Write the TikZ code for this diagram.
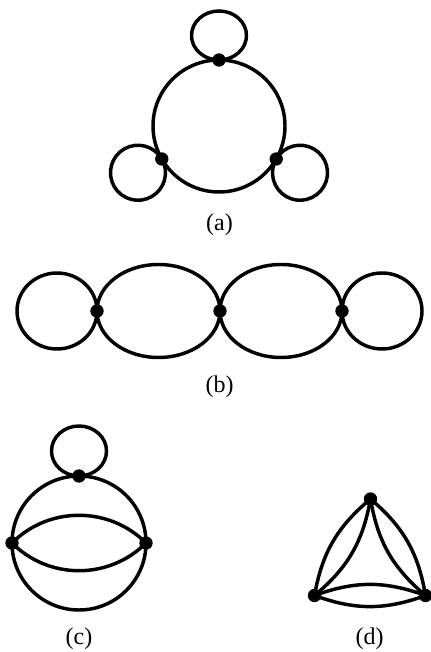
\documentclass[tikz,border=0pt]{standalone}
\usepackage{fontspec}
\setmainfont{Liberation Serif}
\usepackage{tikz}
\usetikzlibrary{positioning, calc}
\tikzset{
	% vertice del grafo
	vertice/.style={circle, fill=black, inner sep=0pt, minimum size=10pt},
	% lato / cappio
	lato/.style={line width=2.6pt},
	% didascalia sotto ogni grafo
	etichetta/.style={font=\fontsize{18}{21}\selectfont, inner sep=0pt},
}

\begin{document}
\begin{tikzpicture}[x=0.75pt, y=0.75pt]
    \useasboundingbox (0,0) rectangle (431,652);
    % grafo (a)
    \coordinate (ca) at (219,526);
    \node[vertice] (a1) at (219,592)   {};
    \node[vertice] (a2) at (161.8,493) {};
    \node[vertice] (a3) at (276.2,493) {};
    \draw[lato] (ca) circle[radius=66];
    \draw[lato] (a1.center) arc[start angle=-90, delta angle=360, x radius=27.5, y radius=24.5];
    \draw[lato] (a2.center) arc[start angle=30, delta angle=360, radius=27.5];
    \draw[lato] (a3.center) arc[start angle=150, delta angle=360, radius=27.5];
    \node[etichetta] (la) at (219.5,427) {(a)};
    % grafo (b)
    \node[vertice] (b1) at (97,341)  {};
    \node[vertice] (b2) at (220,341) {};
    \node[vertice] (b3) at (342,341) {};
    \draw[lato] (b1.center) arc[start angle=0, delta angle=360, x radius=40, y radius=38];
    \draw[lato] (b1.center) arc[start angle=180, delta angle=360, x radius=61.5, y radius=46.5];
    \draw[lato] (b2.center) arc[start angle=180, delta angle=360, x radius=61, y radius=46.5];
    \draw[lato] (b3.center) arc[start angle=180, delta angle=360, x radius=40, y radius=38];
    \node[etichetta] (lb) at (219.5,265) {(b)};
    % grafo (c)
    \coordinate (cc) at (79,109);
    \node[vertice] (c1) at (79,176)  {};
    \node[vertice] (c2) at (12,109)  {};
    \node[vertice] (c3) at (146,109) {};
    \draw[lato] (cc) circle[radius=67];
    \draw[lato] (c1.center) arc[start angle=-90, delta angle=360, x radius=27.5, y radius=25];
    \draw[lato] (c2.center) to[bend left=45] (c3.center);
    \draw[lato] (c2.center) to[bend right=45] (c3.center);
    \node[etichetta] (lc) at (79,13) {(c)};
    % grafo (d)
    \node[vertice] (d1) at (370.5,153) {};
    \node[vertice] (d2) at (314.5,56.5) {};
    \node[vertice] (d3) at (425.5,56.5) {};
    \foreach \u/\v in {d1/d2, d2/d3, d3/d1} {
      \draw[lato] (\u.center) to[bend left=20] (\v.center);
      \draw[lato] (\u.center) to[bend right=20] (\v.center);
    }
    \node[etichetta] (ld) at (369.5,13) {(d)};
\end{tikzpicture}
\end{document}
